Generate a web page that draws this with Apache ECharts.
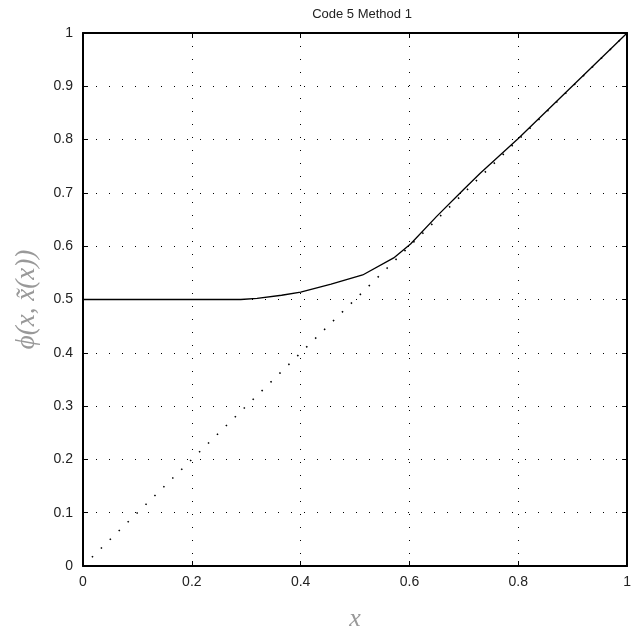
<!DOCTYPE html>
<html>
<head>
<meta charset="utf-8">
<script src="https://cdn.jsdelivr.net/npm/echarts@6/dist/echarts.min.js"></script>
<style>
html,body{margin:0;padding:0;background:#fff;}
#c{width:634px;height:637px;}
</style>
</head>
<body>
<div id="c"></div>
<script>
// ---- data ----
const curveX = [0, 0.29, 0.32, 0.365, 0.40, 0.456, 0.514, 0.571, 0.602, 0.65, 0.70, 0.73, 0.80, 0.90, 1.0];
const curveY = [0.5, 0.5, 0.502, 0.508, 0.514, 0.529, 0.546, 0.578, 0.604, 0.656, 0.707, 0.737, 0.802, 0.901, 1.0];
const diagX = [0, 1];
const diagY = [0, 1];
const xTicks = ['0', '0.2', '0.4', '0.6', '0.8', '1'];
const yTicks = ['0', '0.1', '0.2', '0.3', '0.4', '0.5', '0.6', '0.7', '0.8', '0.9', '1'];

const curve = curveX.map((x, i) => [x, curveY[i]]);
const diag = diagX.map((x, i) => [x, diagY[i]]);

const chart = echarts.init(document.getElementById('c'), null, {renderer: 'canvas'});
const gridDots = {show: true, lineStyle: {color: '#000', width: 1, type: [1, 12]}};
const tickFont = {color: '#222', fontFamily: 'Liberation Sans, Arial, sans-serif', fontSize: 14};

chart.setOption({
  animation: false,
  backgroundColor: '#fff',
  title: {
    text: 'Code 5 Method 1',
    left: 357, top: 3, textAlign: 'center',
    textStyle: {color: '#222', fontWeight: 'normal', fontSize: 13, fontFamily: 'Liberation Sans, Arial, sans-serif'}
  },
  grid: {left: 83, right: 2, top: 33, bottom: 58, containLabel: false},
  xAxis: [{
    type: 'value', min: 0, max: 1, interval: 0.2, position: 'bottom',
    axisLine: {show: true, lineStyle: {color: '#000', width: 2}},
    axisTick: {show: true, inside: true, length: 5, lineStyle: {color: '#000'}},
    axisLabel: Object.assign({margin: 9, formatter: v => xTicks[Math.round(v / 0.2)]}, tickFont),
    splitLine: gridDots,
    name: 'x', nameLocation: 'middle', nameGap: 40,
    nameTextStyle: {fontFamily: 'Liberation Serif, DejaVu Serif, serif', fontStyle: 'italic', fontSize: 26, color: '#999'}
  }, {
    type: 'value', min: 0, max: 1, interval: 0.2, position: 'top',
    axisLine: {show: true, onZero: false, lineStyle: {color: '#000', width: 2}},
    axisTick: {show: true, inside: true, length: 5, lineStyle: {color: '#000'}},
    axisLabel: {show: false}, splitLine: {show: false}
  }],
  yAxis: [{
    type: 'value', min: 0, max: 1, interval: 0.1, position: 'left',
    axisLine: {show: true, onZero: false, lineStyle: {color: '#000', width: 2}},
    axisTick: {show: true, inside: true, length: 5, lineStyle: {color: '#000'}},
    axisLabel: Object.assign({margin: 10, formatter: v => yTicks[Math.round(v / 0.1)]}, tickFont),
    splitLine: gridDots,
    name: 'ϕ(x, x̃(x))', nameLocation: 'middle', nameGap: 43, nameRotate: 90,
    nameTextStyle: {fontFamily: 'Liberation Serif, DejaVu Serif, serif', fontStyle: 'italic', fontSize: 27, color: '#999'}
  }, {
    type: 'value', min: 0, max: 1, interval: 0.1, position: 'right',
    axisLine: {show: true, onZero: false, lineStyle: {color: '#000', width: 2}},
    axisTick: {show: true, inside: true, length: 5, lineStyle: {color: '#000'}},
    axisLabel: {show: false}, splitLine: {show: false}
  }],
  series: [{
    type: 'line', data: diag, showSymbol: false, symbol: 'none',
    lineStyle: {color: '#000', width: 1.6, type: [1.5, 11]}, z: 2
  }, {
    type: 'line', data: curve, showSymbol: false, symbol: 'none',
    lineStyle: {color: '#000', width: 1.3}, z: 3
  }]
});
</script>
</body>
</html>
